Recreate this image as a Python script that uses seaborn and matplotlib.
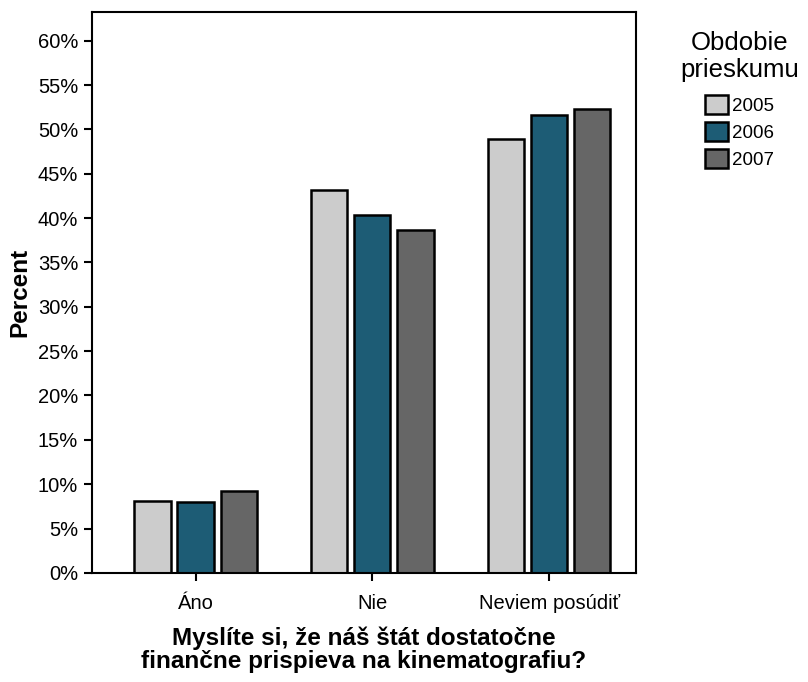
import pandas as pd
import seaborn as sns
import matplotlib.pyplot as plt
from matplotlib.ticker import FuncFormatter, MultipleLocator

categories = ['Áno', 'Nie', 'Neviem posúdiť']
years = ['2005', '2006', '2007']
pct_2005 = [8.1, 43.2, 48.9]
pct_2006 = [8.0, 40.4, 51.6]
pct_2007 = [9.2, 38.6, 52.3]
year_colors = ['#cccccc', '#1d5c75', '#666666']

rows = []
for yr, vals in zip(years, [pct_2005, pct_2006, pct_2007]):
    for cat, v in zip(categories, vals):
        rows.append({'odpoved': cat, 'rok': yr, 'percent': v})
df = pd.DataFrame(rows)

sns.set_style('ticks')
plt.rcParams['font.family'] = ['Liberation Sans', 'DejaVu Sans']
plt.rcParams['text.color'] = 'black'
plt.rcParams['axes.labelcolor'] = 'black'
plt.rcParams['xtick.color'] = 'black'
plt.rcParams['ytick.color'] = 'black'

fig = plt.figure(figsize=(8.08, 6.82), dpi=100)
ax = fig.add_axes([0.114, 0.160, 0.673, 0.822])

sns.barplot(data=df, x='odpoved', y='percent', hue='rok', order=categories,
            hue_order=years, palette=year_colors, saturation=1, width=0.73, gap=0.16,
            edgecolor='black', linewidth=1.8, ax=ax, errorbar=None)

ax.set_xlim(-0.585, 2.49)
ax.set_ylim(0, 63.2)
ax.yaxis.set_major_locator(MultipleLocator(5))
ax.yaxis.set_major_formatter(FuncFormatter(lambda v, p: f'{v:.0f}%'))
ax.tick_params(axis='both', labelsize=14.5, length=6, width=1.5)
ax.tick_params(axis='x', pad=9)
ax.tick_params(axis='y', pad=4)
for s in ax.spines.values():
    s.set_visible(True)
    s.set_color('black')
    s.set_linewidth(1.5)

ax.set_ylabel('Percent', fontsize=17.5, fontweight='bold', labelpad=5)
ax.set_xlabel('Myslíte si, že náš štát dostatočne\nfinančne prispieva na kinematografiu?',
              fontsize=17.5, fontweight='bold', labelpad=10, linespacing=1.02)

# legend title as separate text so the gap to the entries can be set freely
fig.text(0.915, 0.917, 'Obdobie\nprieskumu', ha='center', va='center',
         fontsize=18.5, linespacing=1.12)
leg = ax.legend(loc='upper left', bbox_to_anchor=(0.873, 0.861),
                bbox_transform=fig.transFigure, frameon=False, fontsize=13.5,
                borderpad=0, borderaxespad=0,
                handlelength=1.2, handleheight=1.2, handletextpad=0.2,
                labelspacing=0.38)

fig.savefig('out.png', dpi=100)
